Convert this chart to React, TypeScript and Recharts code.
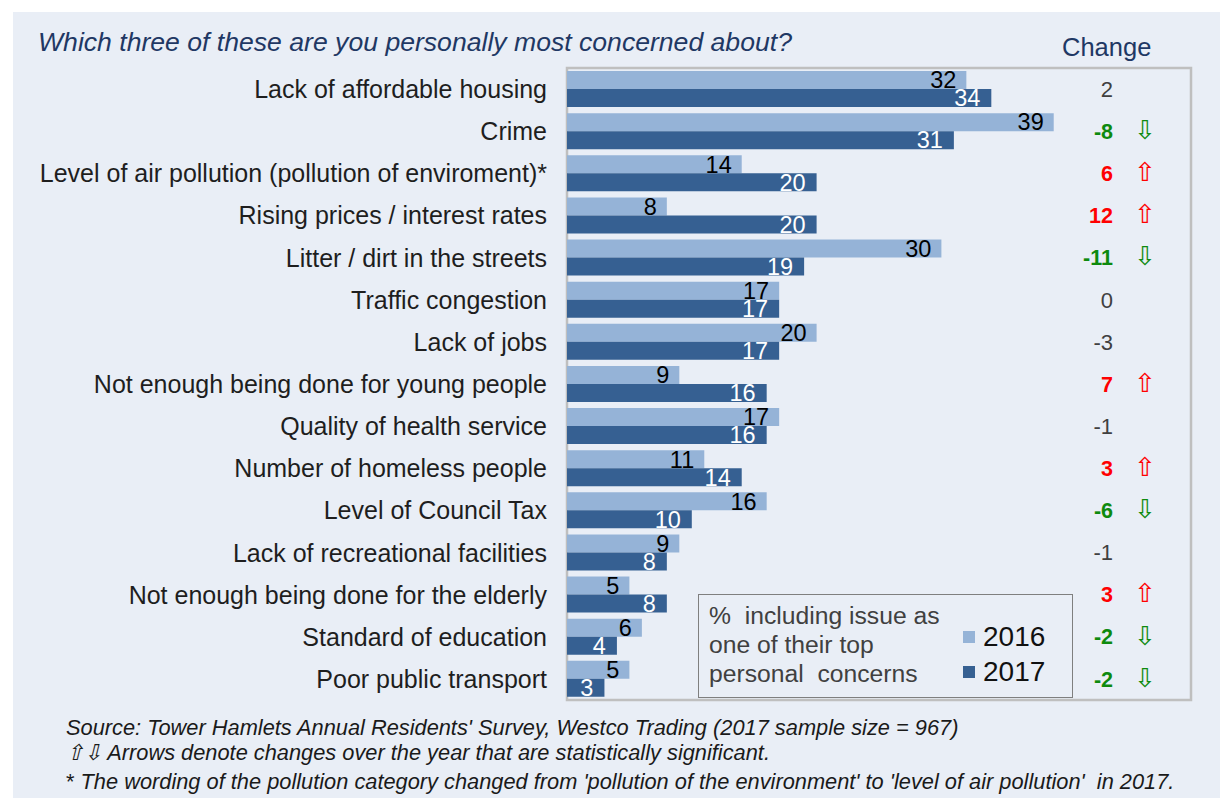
import React from 'react';
import { BarChart, Bar, XAxis, YAxis, LabelList, Legend, ReferenceArea } from 'recharts';

const categories = [
  'Lack of affordable housing',
  'Crime',
  'Level of air pollution (pollution of enviroment)*',
  'Rising prices / interest rates',
  'Litter / dirt in the streets',
  'Traffic congestion',
  'Lack of jobs',
  'Not enough being done for young people',
  'Quality of health service',
  'Number of homeless people',
  'Level of Council Tax',
  'Lack of recreational facilities',
  'Not enough being done for the elderly',
  'Standard of education',
  'Poor public transport',
];
const values2016 = [32, 39, 14, 8, 30, 17, 20, 9, 17, 11, 16, 9, 5, 6, 5];
const values2017 = [34, 31, 20, 20, 19, 17, 17, 16, 16, 14, 10, 8, 8, 4, 3];
const changes = [2, -8, 6, 12, -11, 0, -3, 7, -1, 3, -6, -1, 3, -2, -2];
const significant = [false, true, true, true, true, false, false, true, false, true, true, false, true, true, true];
const seriesNames = ['2016', '2017'];
const xDomain = [0, 50];

const title = 'Which three of these are you personally most concerned about?';
const changeHeader = 'Change';
const legendNote = ['%  including issue as', 'one of their top', 'personal  concerns'];
const footnotes = [
  "Source: Tower Hamlets Annual Residents' Survey, Westco Trading (2017 sample size = 967)",
  '\u21E7\u21E9 Arrows denote changes over the year that are statistically significant.',
  "The wording of the pollution category changed from 'pollution of the environment' to 'level of air pollution'  in 2017.",
];

const FONT = '"Liberation Sans", Arial, sans-serif';
const COLOR_2016 = '#95B3D7';
const COLOR_2017 = '#366092';
const PANEL_BG = '#E9EEF6';
const UP = '#FF0000';
const DOWN = '#0E8A0E';

const data = categories.map((name, i) => ({
  name,
  v2016: values2016[i],
  v2017: values2017[i],
  change: changes[i],
}));

const CategoryTick = (props: any) => {
  const { x, y, payload } = props;
  return (
    <text x={x} y={y} dy="0.36em" textAnchor="end" fontSize={25} fill="#1E1E1E" fontFamily={FONT}>
      {payload.value}
    </text>
  );
};

// Change column: drawn from the 2016 bar's geometry (its left edge = plot left, its bottom = category centre)
const ChangeLabel = (props: any) => {
  const { x, y, height, index } = props;
  const c = changes[index];
  const sig = significant[index];
  const color = !sig ? '#404040' : c > 0 ? UP : DOWN;
  const cy = y + height;
  return (
    <g>
      <text
        x={x + 546}
        y={cy}
        dy="0.36em"
        textAnchor="end"
        fontSize={sig ? 21.5 : 22}
        fontWeight={sig ? 700 : 400}
        fill={color}
        fontFamily={FONT}
      >
        {c}
      </text>
      {sig && (
        <text x={x + 578} y={cy} dy="0.3em" textAnchor="middle" fontSize={26} fill={color} fontFamily="DejaVu Sans">
          {c > 0 ? '\u21E7' : '\u21E9'}
        </text>
      )}
    </g>
  );
};

const LegendBox = (props: any) => {
  const payload = props.payload || [];
  return (
    <div
      style={{
        position: 'relative',
        width: 375,
        height: 104,
        border: '1.5px solid #7F7F7F',
        boxSizing: 'border-box',
        background: PANEL_BG,
        fontFamily: FONT,
      }}
    >
      <div
        style={{
          position: 'absolute',
          left: 10,
          top: 6,
          fontSize: 24.7,
          lineHeight: '29px',
          color: '#404040',
          whiteSpace: 'pre',
        }}
      >
        {legendNote.join('\n')}
      </div>
      {payload.map((entry: any, k: number) => (
        <div
          key={k}
          style={{
            position: 'absolute',
            left: 264,
            top: 24 + k * 35,
            height: 35,
            display: 'flex',
            alignItems: 'center',
          }}
        >
          <span style={{ display: 'inline-block', width: 12, height: 12, background: entry.color, marginRight: 8 }} />
          <span style={{ fontSize: 28, color: '#111' }}>{entry.value}</span>
        </div>
      ))}
    </div>
  );
};

export default function App() {
  return (
    <div style={{ position: 'absolute', left: 0, top: 0, width: 1220, height: 800, background: '#FFFFFF', fontFamily: FONT }}>
      <div style={{ position: 'absolute', left: 13, top: 12, width: 1207, height: 786, background: PANEL_BG }} />
      <div
        style={{
          position: 'absolute',
          left: 38,
          top: 29,
          fontSize: 26.6,
          lineHeight: '26px',
          fontStyle: 'italic',
          color: '#1F3864',
          whiteSpace: 'pre',
        }}
      >
        {title}
      </div>
      <div
        style={{
          position: 'absolute',
          left: 1062,
          top: 35,
          fontSize: 25.5,
          lineHeight: '25px',
          color: '#1F3864',
        }}
      >
        {changeHeader}
      </div>
      <div style={{ position: 'absolute', left: 0, top: 0 }}>
        <BarChart
          width={1220}
          height={800}
          data={data}
          layout="vertical"
          margin={{ top: 68, right: 29, bottom: 100, left: 12 }}
          barCategoryGap={3}
          barGap={0}
        >
          <XAxis type="number" domain={xDomain} hide />
          <YAxis
            type="category"
            dataKey="name"
            width={555}
            tickLine={false}
            axisLine={false}
            tickSize={0}
            tickMargin={20}
            tick={<CategoryTick />}
            interval={0}
          />
          <Legend
            layout="vertical"
            align="center"
            verticalAlign="middle"
            content={<LegendBox />}
            wrapperStyle={{ position: 'absolute', left: 698, top: 594, width: 375, height: 104 }}
          />
          <Bar dataKey="v2016" name={seriesNames[0]} fill={COLOR_2016} isAnimationActive={false}>
            <LabelList dataKey="v2016" position="insideRight" offset={10} fill="#000000" fontSize={23.5} fontFamily={FONT} />
            <LabelList dataKey="change" content={<ChangeLabel />} />
          </Bar>
          <Bar dataKey="v2017" name={seriesNames[1]} fill={COLOR_2017} isAnimationActive={false}>
            <LabelList dataKey="v2017" position="insideRight" offset={11} fill="#FFFFFF" fontSize={23.5} fontFamily={FONT} />
          </Bar>
          <ReferenceArea
            x1={xDomain[0]}
            x2={xDomain[1]}
            stroke="#BFBFBF"
            strokeWidth={2.5}
            fill="none"
            ifOverflow="visible"
          />
        </BarChart>
      </div>
      <div
        style={{
          position: 'absolute',
          left: 66,
          top: 715,
          fontSize: 21.8,
          lineHeight: '25px',
          fontStyle: 'italic',
          color: '#1A1A1A',
          whiteSpace: 'pre',
        }}
      >
        <div>{footnotes[0]}</div>
        <div>{footnotes[1]}</div>
        <div style={{ marginTop: 4 }}>
          <span style={{ fontStyle: 'normal' }}>* </span>
          {footnotes[2]}
        </div>
      </div>
    </div>
  );
}
